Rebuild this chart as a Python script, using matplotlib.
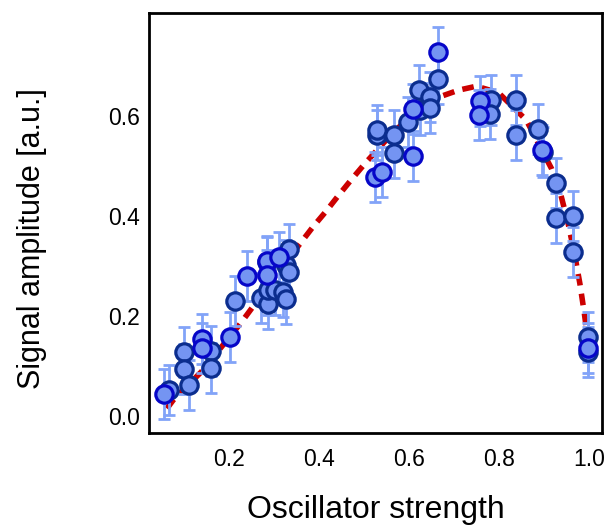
import matplotlib
matplotlib.use("Agg")
import matplotlib.pyplot as plt
import numpy as np

plt.rcParams['font.family'] = ['Liberation Sans', 'DejaVu Sans']

# measurements, dark-rimmed markers
x_dark = [0.067, 0.100, 0.100, 0.110, 0.159, 0.159, 0.214, 0.270, 0.284, 0.286, 0.286,
          0.302, 0.321, 0.326, 0.326, 0.333, 0.334, 0.528, 0.530, 0.567, 0.567, 0.598,
          0.624, 0.623, 0.647, 0.647, 0.664, 0.783, 0.780, 0.839, 0.838, 0.886, 0.897,
          0.928, 0.928, 0.965, 0.965, 0.999, 0.999]
y_dark = [0.052, 0.128, 0.094, 0.062, 0.131, 0.096, 0.230, 0.237, 0.309, 0.225, 0.253,
          0.252, 0.249, 0.235, 0.302, 0.289, 0.335, 0.562, 0.572, 0.562, 0.527, 0.589,
          0.612, 0.652, 0.639, 0.617, 0.675, 0.632, 0.605, 0.632, 0.563, 0.575, 0.528,
          0.467, 0.397, 0.400, 0.329, 0.159, 0.129]

# measurements, bright-rimmed markers
x_bright = [0.056, 0.139, 0.139, 0.203, 0.240, 0.284, 0.284, 0.310, 0.524, 0.539,
            0.610, 0.608, 0.664, 0.758, 0.756, 0.895, 0.999]
y_bright = [0.044, 0.154, 0.137, 0.159, 0.281, 0.310, 0.283, 0.319, 0.479, 0.489,
            0.521, 0.615, 0.729, 0.631, 0.602, 0.532, 0.137]

err = 0.05

# fitted model curve
x_fit = [0.062, 0.076, 0.139, 0.227, 0.250, 0.300, 0.358, 0.387, 0.416, 0.443, 0.471,
         0.501, 0.550, 0.600, 0.669, 0.710, 0.750, 0.799, 0.861, 0.917, 0.937, 0.954,
         0.968, 0.980, 0.990, 0.998]
y_fit = [0.015, 0.032, 0.089, 0.187, 0.215, 0.278, 0.345, 0.379, 0.410, 0.441, 0.472,
         0.504, 0.553, 0.598, 0.639, 0.652, 0.660, 0.647, 0.592, 0.495, 0.445, 0.385,
         0.325, 0.265, 0.205, 0.150]

face = '#7494f2'
bar = '#82a3f8'

fig = plt.figure(figsize=(6.08, 5.30), dpi=100)
ax = fig.add_axes([0.245, 0.183, 0.745, 0.792])

ax.plot(x_fit, y_fit, color='#cc0000', lw=4, ls=(0, (2.1, 1.5)), zorder=1)

for xs, ys in ((x_dark, y_dark), (x_bright, y_bright)):
    ax.errorbar(xs, ys, yerr=err, fmt='none', ecolor=bar, elinewidth=2,
                capsize=4.5, capthick=2, zorder=2)

ax.plot(x_dark, y_dark, 'o', ms=12.5, mfc=face, mec='#0b2d8e', mew=2.3, zorder=3)
ax.plot(x_bright, y_bright, 'o', ms=12.5, mfc=face, mec='#0606c8', mew=2.3, zorder=4)

ax.set_xlim(0.022, 1.029)
ax.set_ylim(-0.034, 0.806)
ax.set_xticks([0.2, 0.4, 0.6, 0.8, 1.0])
ax.set_yticks([0.0, 0.2, 0.4, 0.6])
ax.tick_params(length=0, labelsize=16.5)
ax.tick_params(axis='x', pad=11)
ax.tick_params(axis='y', pad=6.5)
for s in ax.spines.values():
    s.set_linewidth(2)

ax.set_xlabel('Oscillator strength', fontsize=23)
ax.xaxis.set_label_coords(0.5, -0.148)
ax.set_ylabel('Signal amplitude [a.u.]', fontsize=22)
ax.yaxis.set_label_coords(-0.225, 0.464)

fig.savefig('out.png', dpi=100)
